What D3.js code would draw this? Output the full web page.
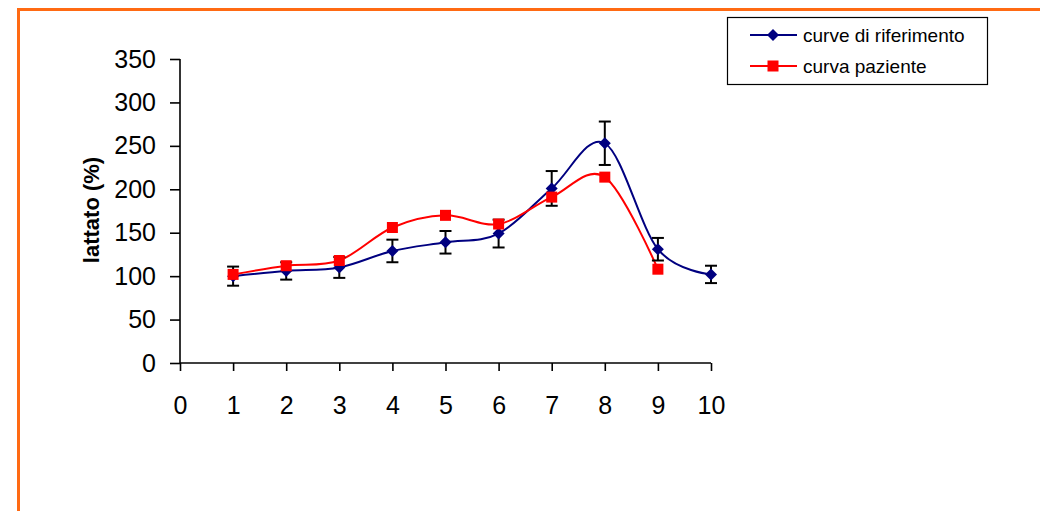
<!DOCTYPE html>
<html>
<head>
<meta charset="utf-8">
<script src="https://cdn.jsdelivr.net/npm/d3@7"></script>
<style>
  html, body { margin: 0; padding: 0; background: #fff; }
  svg { display: block; }
  text { font-family: "Liberation Sans", Arial, sans-serif; }
</style>
</head>
<body>
<svg id="chart" width="1040" height="511"></svg>
<script>
const categories = [1, 2, 3, 4, 5, 6, 7, 8, 9, 10];
const refValues = [100, 106, 110, 129, 139, 149, 201, 253, 131, 102];
const refErrors = [11, 10, 12, 13, 13, 16, 20, 25, 13, 10];
const patientCategories = [1, 2, 3, 4, 5, 6, 7, 8, 9];
const patientValues = [102, 112, 118, 156, 170, 160, 191, 214, 108];
const xTicks = [0, 1, 2, 3, 4, 5, 6, 7, 8, 9, 10];
const yTicks = [0, 50, 100, 150, 200, 250, 300, 350];
const seriesNames = ["curve di riferimento", "curva paziente"];
const seriesColors = ["#000080", "#FF0000"];

const svg = d3.select("#chart");

// orange frame
svg.append("path")
  .attr("d", "M18.5,520 L18.5,9.5 L1050,9.5")
  .attr("fill", "none")
  .attr("stroke", "#FF6A13")
  .attr("stroke-width", 3);

const x = d3.scaleLinear().domain([0, 10]).range([180, 711]);
const y = d3.scaleLinear().domain([0, 350]).range([363, 59]);

// axes
const yAxis = d3.axisLeft(y).tickValues(yTicks).tickSize(10).tickPadding(14);
const xAxis = d3.axisBottom(x).tickValues(xTicks).tickSize(8).tickPadding(25);

const gy = svg.append("g").attr("transform", "translate(180,0)").call(yAxis);
const gx = svg.append("g").attr("transform", "translate(0,363)").call(xAxis);
[gx, gy].forEach(g => {
  g.select(".domain").attr("stroke", "#000").attr("stroke-width", 1.6);
  g.selectAll(".tick line").attr("stroke", "#000").attr("stroke-width", 1.6);
  g.selectAll(".tick text").attr("fill", "#000")
    .style("font-family", "'Liberation Sans', Arial, sans-serif")
    .style("font-size", "25px");
});
gx.select(".domain").attr("d", "M180,0H711");
gy.select(".domain").attr("d", "M0,363V59");

// y title
svg.append("text")
  .attr("transform", "translate(99,210) rotate(-90)")
  .attr("text-anchor", "middle")
  .style("font-size", "22px")
  .style("font-weight", "bold")
  .text("lattato (%)");

const line = d3.line().curve(d3.curveCardinal.tension(0));

// reference series line
const refPts = categories.map((c, i) => [x(c), y(refValues[i])]);
svg.append("path").attr("d", line(refPts))
  .attr("fill", "none").attr("stroke", seriesColors[0]).attr("stroke-width", 2);

// patient series line
const patPts = patientCategories.map((c, i) => [x(c), y(patientValues[i])]);
svg.append("path").attr("d", line(patPts))
  .attr("fill", "none").attr("stroke", seriesColors[1]).attr("stroke-width", 2);

// error bars
const eb = svg.append("g").attr("stroke", "#000").attr("stroke-width", 2);
categories.forEach((c, i) => {
  const cx = x(c), t = y(refValues[i] + refErrors[i]), b = y(refValues[i] - refErrors[i]);
  eb.append("line").attr("x1", cx).attr("x2", cx).attr("y1", t).attr("y2", b);
  eb.append("line").attr("x1", cx - 6).attr("x2", cx + 6).attr("y1", t).attr("y2", t);
  eb.append("line").attr("x1", cx - 6).attr("x2", cx + 6).attr("y1", b).attr("y2", b);
});

// markers
const diamond = "M0,-6L6,0L0,6L-6,0Z";
svg.append("g").selectAll("path").data(refPts).join("path")
  .attr("d", diamond)
  .attr("transform", d => `translate(${d[0]},${d[1]})`)
  .attr("fill", seriesColors[0]);

svg.append("g").selectAll("rect").data(patPts).join("rect")
  .attr("x", d => d[0] - 5.5).attr("y", d => d[1] - 5.5)
  .attr("width", 11).attr("height", 11)
  .attr("fill", seriesColors[1]);

// legend
const lg = svg.append("g");
lg.append("rect").attr("x", 727.5).attr("y", 17.5).attr("width", 260).attr("height", 67)
  .attr("fill", "#fff").attr("stroke", "#000").attr("stroke-width", 1.2);
const rowsY = [35, 66];
seriesNames.forEach((name, i) => {
  const yy = rowsY[i];
  lg.append("line").attr("x1", 750).attr("x2", 797).attr("y1", yy).attr("y2", yy)
    .attr("stroke", seriesColors[i]).attr("stroke-width", 2);
  if (i === 0) {
    lg.append("path").attr("d", diamond).attr("transform", `translate(773,${yy})`)
      .attr("fill", seriesColors[0]);
  } else {
    lg.append("rect").attr("x", 773 - 5.5).attr("y", yy - 5.5).attr("width", 11).attr("height", 11)
      .attr("fill", seriesColors[1]);
  }
  lg.append("text").attr("x", 803).attr("y", yy + 6.5)
    .style("font-size", "19px").attr("fill", "#000").text(name);
});
</script>
</body>
</html>
